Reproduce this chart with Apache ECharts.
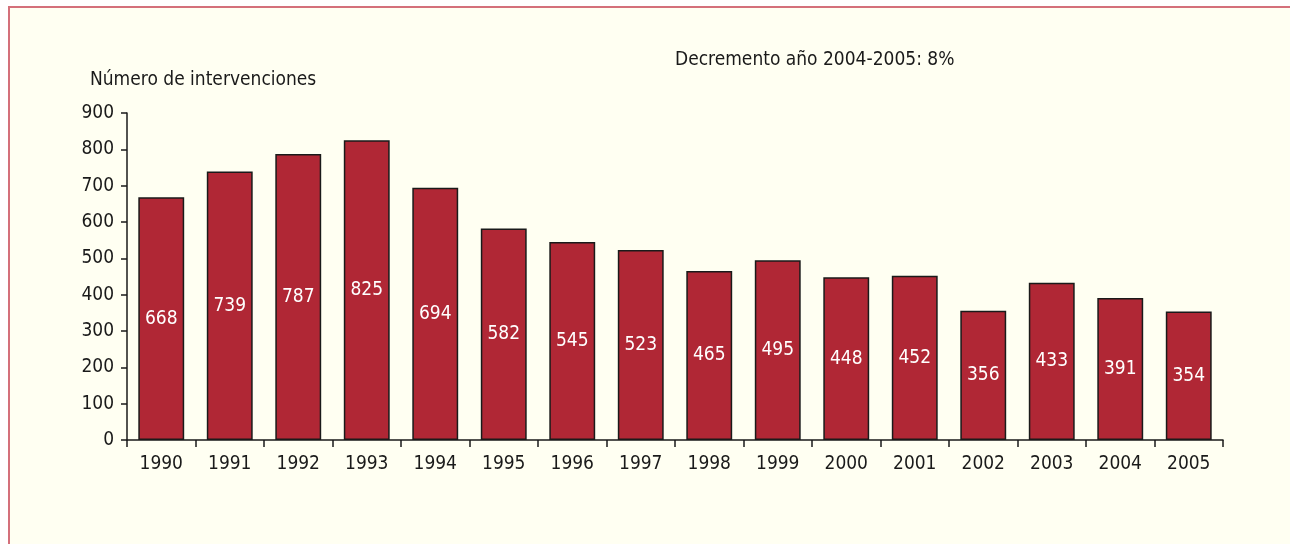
<!DOCTYPE html>
<html>
<head>
<meta charset="utf-8">
<script src="https://cdn.jsdelivr.net/npm/echarts@6/dist/echarts.min.js"></script>
<style>
html,body{margin:0;padding:0;width:1290px;height:544px;background:#ffffff;overflow:hidden;}
#frame{position:absolute;left:8px;top:6px;width:1300px;height:560px;background:#FFFFF2;border-top:2px solid #D4707A;border-left:2px solid #D4707A;}
#chart{position:absolute;left:0;top:0;width:1290px;height:544px;}
</style>
</head>
<body>
<div id="frame"></div>
<div id="chart"></div>
<script>
const years = ['1990','1991','1992','1993','1994','1995','1996','1997','1998','1999','2000','2001','2002','2003','2004','2005'];
const interventions = [668,739,787,825,694,582,545,523,465,495,448,452,356,433,391,354];
const yTicks = [0,100,200,300,400,500,600,700,800,900];
const yAxisTitle = 'Número de intervenciones';
const note = 'Decremento año 2004-2005: 8%';

const FONT = '"Liberation Sans Narrow", "DejaVu Sans Condensed", "Roboto Condensed", sans-serif';
const chart = echarts.init(document.getElementById('chart'), null, {renderer:'canvas'});
chart.setOption({
  backgroundColor: 'transparent',
  animation: false,
  textStyle: {fontFamily: FONT},
  grid: {left: 127, right: 67, top: 113, bottom: 104, containLabel: false},
  graphic: [
    {type:'text', left: 90, top: 71, style:{text: yAxisTitle, fontFamily: FONT, fontSize: 19, fill:'#1a1a1a'}},
    {type:'text', left: 675, top: 51, style:{text: note, fontFamily: FONT, fontSize: 19, fill:'#1a1a1a'}}
  ],
  xAxis: {
    type: 'category',
    data: years,
    boundaryGap: true,
    axisLine: {show: true, lineStyle: {color:'#1a1a1a', width: 1.5}},
    axisTick: {show: true, alignWithLabel: false, length: 7, lineStyle: {color:'#1a1a1a', width: 1.5}},
    axisLabel: {color:'#1a1a1a', fontSize: 19, fontFamily: FONT, margin: 15}
  },
  yAxis: {
    type: 'value',
    min: yTicks[0],
    max: yTicks[yTicks.length-1],
    interval: 100,
    axisLine: {show: true, lineStyle: {color:'#1a1a1a', width: 1.5}},
    axisTick: {show: true, length: 6, lineStyle: {color:'#1a1a1a', width: 1.5}},
    splitLine: {show: false},
    axisLabel: {color:'#1a1a1a', fontSize: 19, fontFamily: FONT, margin: 13}
  },
  series: [{
    type: 'bar',
    data: interventions,
    barWidth: '67%',
    itemStyle: {color:'#B02735', borderColor:'#1a1a1a', borderWidth: 1.5},
    label: {show: true, position: 'inside', color:'#ffffff', fontSize: 19, fontFamily: FONT}
  }]
});
</script>
</body>
</html>
